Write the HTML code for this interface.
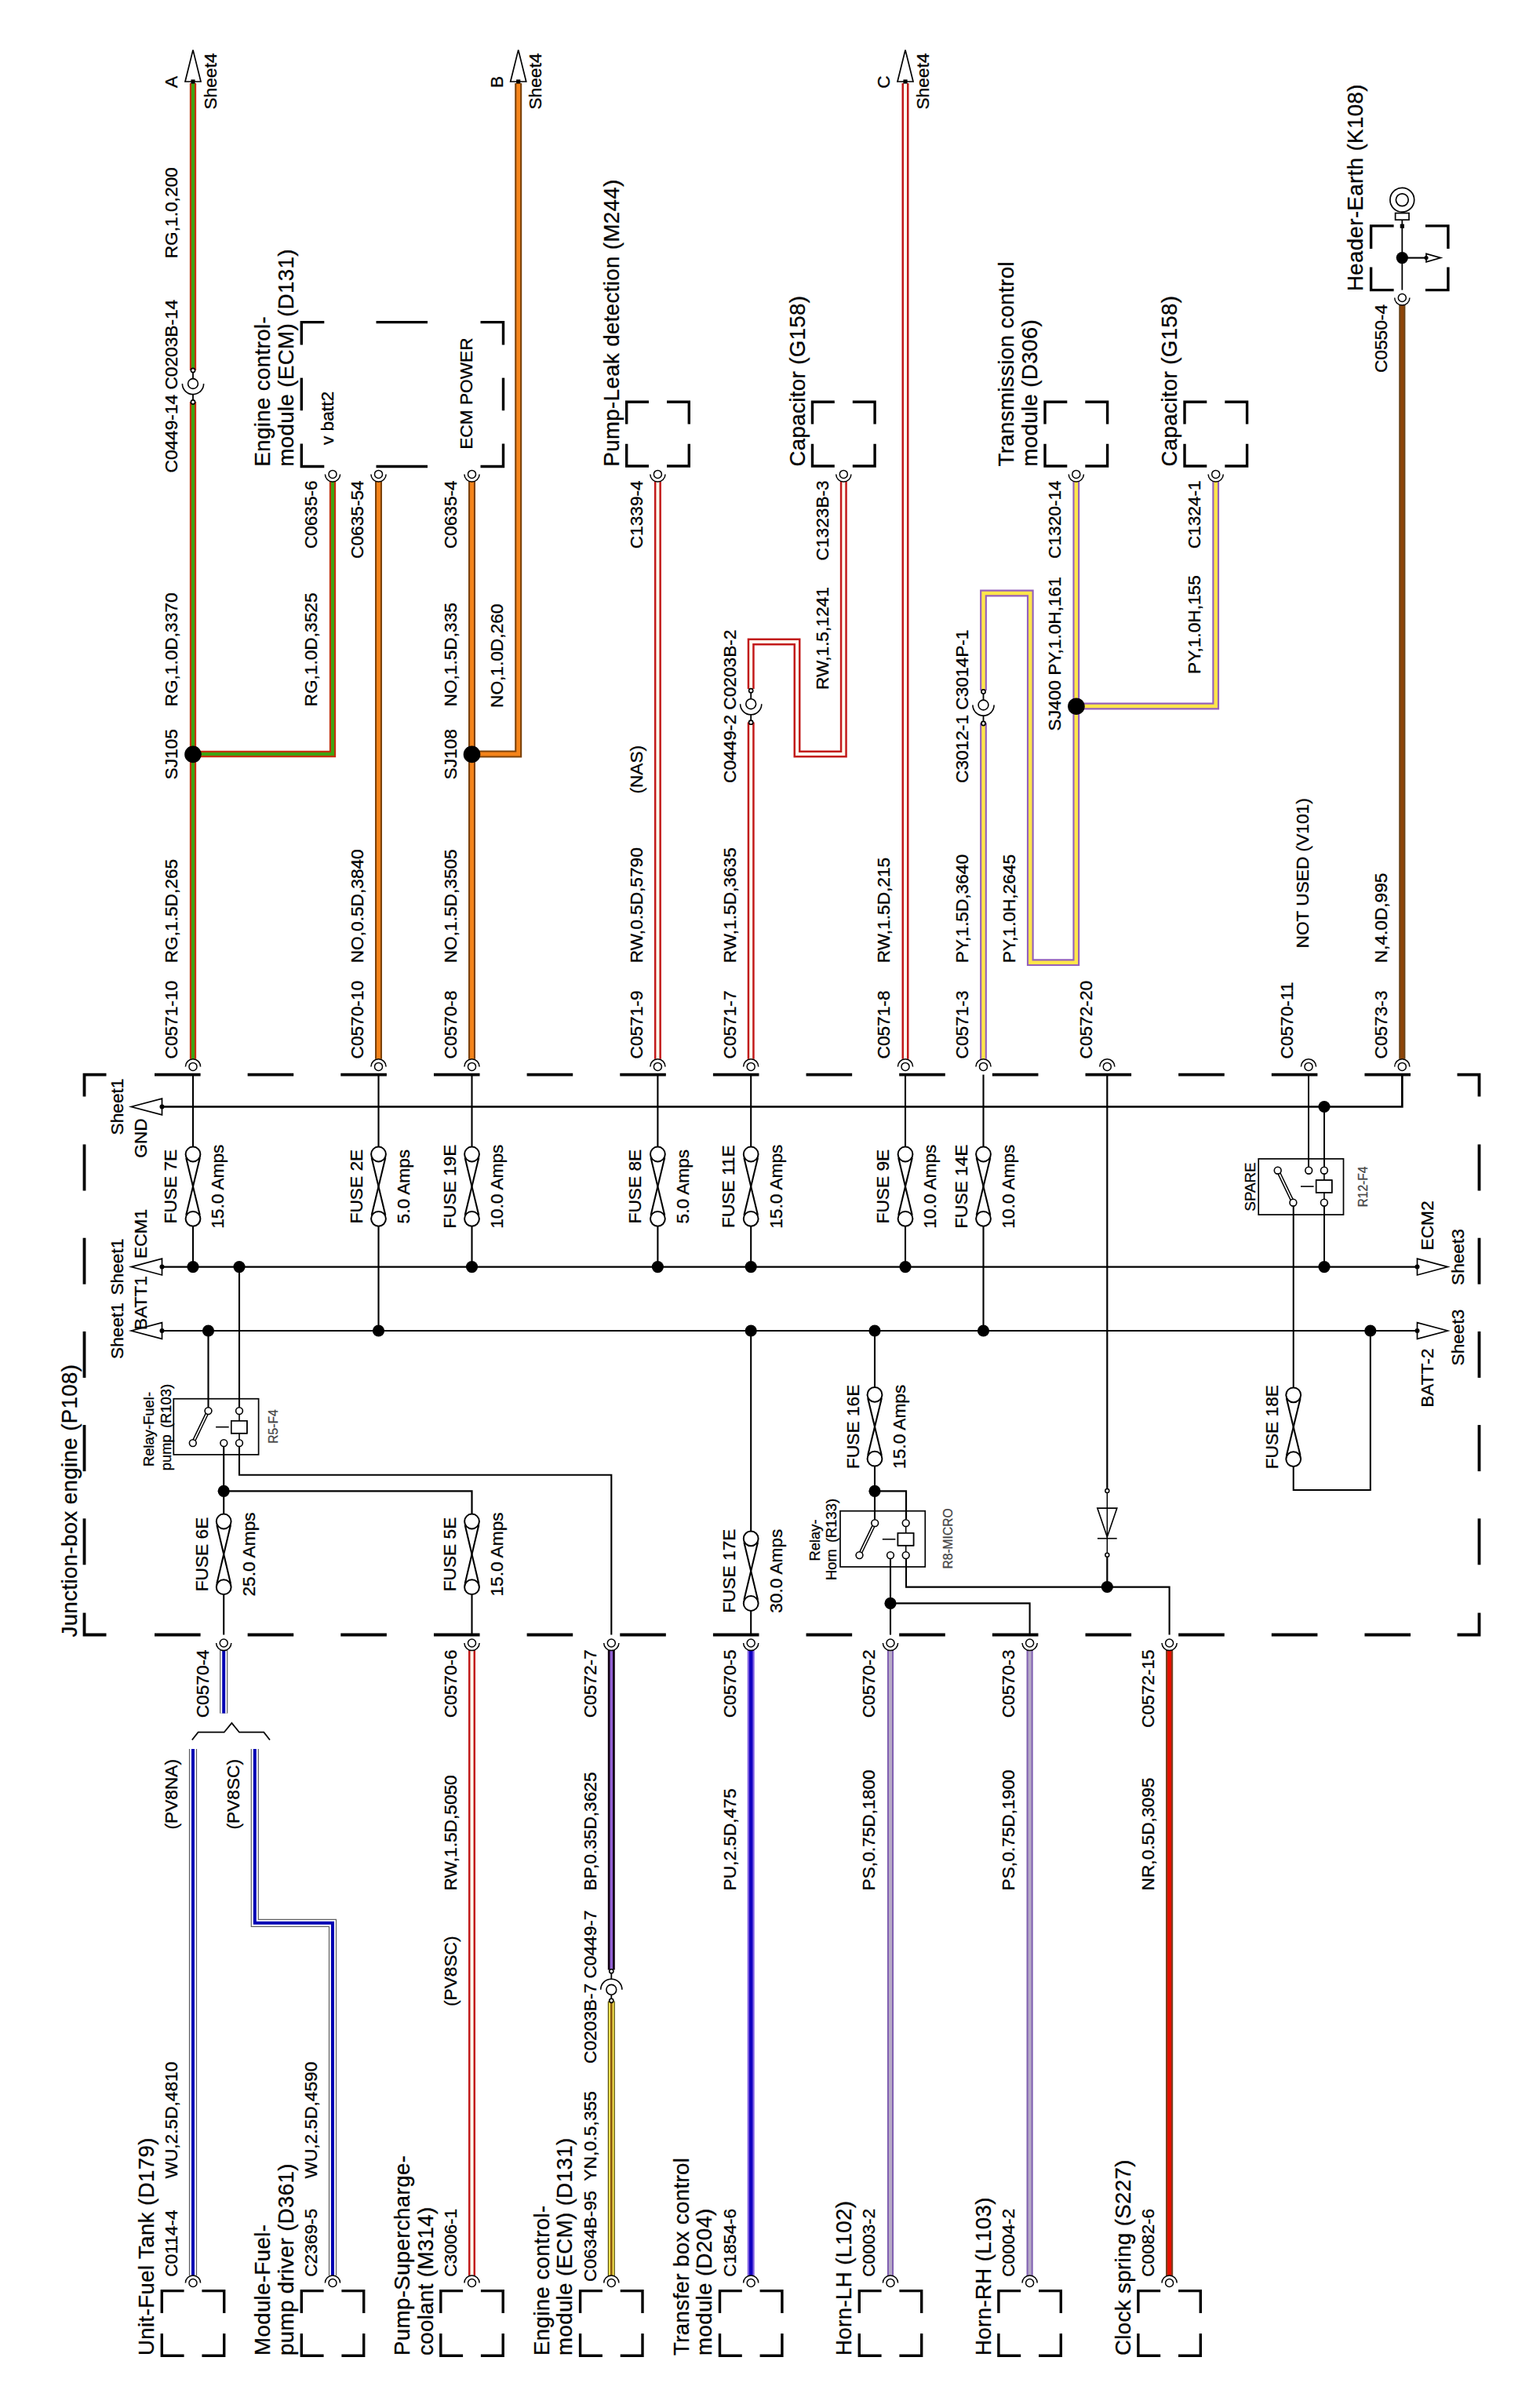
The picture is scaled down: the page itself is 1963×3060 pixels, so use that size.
<!DOCTYPE html>
<html><head><meta charset="utf-8"><title>Junction-box engine (P108)</title>
<style>
html,body{margin:0;padding:0;background:#fff;}
svg{display:block;}
text{font-family:"Liberation Sans",Arial,Helvetica,sans-serif;font-size:22.7px;fill:#000;stroke:#000;stroke-width:0.3px;}
</style></head>
<body>
<svg xmlns="http://www.w3.org/2000/svg" width="1963" height="3060" viewBox="0 0 1963 3060">
<rect width="1963" height="3060" fill="#fff"/>
<polyline points="107.5,1397.6 107.5,1369.6 135.5,1369.6" fill="none" stroke="#000" stroke-width="3.8" />
<polyline points="1857.5,1369.6 1885.5,1369.6 1885.5,1397.6" fill="none" stroke="#000" stroke-width="3.8" />
<polyline points="1885.5,2055.5 1885.5,2083.5 1857.5,2083.5" fill="none" stroke="#000" stroke-width="3.8" />
<polyline points="135.5,2083.5 107.5,2083.5 107.5,2055.5" fill="none" stroke="#000" stroke-width="3.8" />
<line x1="197" y1="1369.6" x2="255.6" y2="1369.6" stroke="#000" stroke-width="3.8"/>
<line x1="197" y1="2083.5" x2="255.6" y2="2083.5" stroke="#000" stroke-width="3.8"/>
<line x1="315.65" y1="1369.6" x2="374.25" y2="1369.6" stroke="#000" stroke-width="3.8"/>
<line x1="315.65" y1="2083.5" x2="374.25" y2="2083.5" stroke="#000" stroke-width="3.8"/>
<line x1="434.3" y1="1369.6" x2="492.9" y2="1369.6" stroke="#000" stroke-width="3.8"/>
<line x1="434.3" y1="2083.5" x2="492.9" y2="2083.5" stroke="#000" stroke-width="3.8"/>
<line x1="552.95" y1="1369.6" x2="611.55" y2="1369.6" stroke="#000" stroke-width="3.8"/>
<line x1="552.95" y1="2083.5" x2="611.55" y2="2083.5" stroke="#000" stroke-width="3.8"/>
<line x1="671.6" y1="1369.6" x2="730.2" y2="1369.6" stroke="#000" stroke-width="3.8"/>
<line x1="671.6" y1="2083.5" x2="730.2" y2="2083.5" stroke="#000" stroke-width="3.8"/>
<line x1="790.25" y1="1369.6" x2="848.85" y2="1369.6" stroke="#000" stroke-width="3.8"/>
<line x1="790.25" y1="2083.5" x2="848.85" y2="2083.5" stroke="#000" stroke-width="3.8"/>
<line x1="908.9" y1="1369.6" x2="967.5" y2="1369.6" stroke="#000" stroke-width="3.8"/>
<line x1="908.9" y1="2083.5" x2="967.5" y2="2083.5" stroke="#000" stroke-width="3.8"/>
<line x1="1027.55" y1="1369.6" x2="1086.15" y2="1369.6" stroke="#000" stroke-width="3.8"/>
<line x1="1027.55" y1="2083.5" x2="1086.15" y2="2083.5" stroke="#000" stroke-width="3.8"/>
<line x1="1146.2" y1="1369.6" x2="1204.8" y2="1369.6" stroke="#000" stroke-width="3.8"/>
<line x1="1146.2" y1="2083.5" x2="1204.8" y2="2083.5" stroke="#000" stroke-width="3.8"/>
<line x1="1264.85" y1="1369.6" x2="1323.45" y2="1369.6" stroke="#000" stroke-width="3.8"/>
<line x1="1264.85" y1="2083.5" x2="1323.45" y2="2083.5" stroke="#000" stroke-width="3.8"/>
<line x1="1383.5" y1="1369.6" x2="1442.1" y2="1369.6" stroke="#000" stroke-width="3.8"/>
<line x1="1383.5" y1="2083.5" x2="1442.1" y2="2083.5" stroke="#000" stroke-width="3.8"/>
<line x1="1502.15" y1="1369.6" x2="1560.75" y2="1369.6" stroke="#000" stroke-width="3.8"/>
<line x1="1502.15" y1="2083.5" x2="1560.75" y2="2083.5" stroke="#000" stroke-width="3.8"/>
<line x1="1620.8" y1="1369.6" x2="1679.4" y2="1369.6" stroke="#000" stroke-width="3.8"/>
<line x1="1620.8" y1="2083.5" x2="1679.4" y2="2083.5" stroke="#000" stroke-width="3.8"/>
<line x1="1739.45" y1="1369.6" x2="1798.05" y2="1369.6" stroke="#000" stroke-width="3.8"/>
<line x1="1739.45" y1="2083.5" x2="1798.05" y2="2083.5" stroke="#000" stroke-width="3.8"/>
<line x1="107.5" y1="1458.5" x2="107.5" y2="1517.5" stroke="#000" stroke-width="3.8"/>
<line x1="1885.5" y1="1458.5" x2="1885.5" y2="1517.5" stroke="#000" stroke-width="3.8"/>
<line x1="107.5" y1="1577.7" x2="107.5" y2="1636.7" stroke="#000" stroke-width="3.8"/>
<line x1="1885.5" y1="1577.7" x2="1885.5" y2="1636.7" stroke="#000" stroke-width="3.8"/>
<line x1="107.5" y1="1696.9" x2="107.5" y2="1755.9" stroke="#000" stroke-width="3.8"/>
<line x1="1885.5" y1="1696.9" x2="1885.5" y2="1755.9" stroke="#000" stroke-width="3.8"/>
<line x1="107.5" y1="1816.1" x2="107.5" y2="1875.1" stroke="#000" stroke-width="3.8"/>
<line x1="1885.5" y1="1816.1" x2="1885.5" y2="1875.1" stroke="#000" stroke-width="3.8"/>
<line x1="107.5" y1="1935.3" x2="107.5" y2="1994.3" stroke="#000" stroke-width="3.8"/>
<line x1="1885.5" y1="1935.3" x2="1885.5" y2="1994.3" stroke="#000" stroke-width="3.8"/>
<polyline points="206.5,1410.5 1787.3,1410.5 1787.3,1369.6" fill="none" stroke="#000" stroke-width="2.7" />
<line x1="206.5" y1="1614.6" x2="1806.5" y2="1614.6" stroke="#000" stroke-width="2.1"/>
<line x1="206.5" y1="1696" x2="1806.5" y2="1696" stroke="#000" stroke-width="2.2"/>
<polygon points="167.2,1410.5 206.5,1400.1 206.5,1420.9" fill="#fff" stroke="#000" stroke-width="1.7" stroke-linejoin="miter"/>
<circle cx="206.5" cy="1410.5" r="3" fill="#000"/>
<polygon points="167.2,1614.6 206.5,1604.2 206.5,1625" fill="#fff" stroke="#000" stroke-width="1.7" stroke-linejoin="miter"/>
<circle cx="206.5" cy="1614.6" r="3" fill="#000"/>
<polygon points="167.2,1696 206.5,1685.6 206.5,1706.4" fill="#fff" stroke="#000" stroke-width="1.7" stroke-linejoin="miter"/>
<circle cx="206.5" cy="1696" r="3" fill="#000"/>
<polygon points="1845.5,1614.6 1806.5,1604.2 1806.5,1625" fill="#fff" stroke="#000" stroke-width="1.7" stroke-linejoin="miter"/>
<circle cx="1806.5" cy="1614.6" r="3" fill="#000"/>
<polygon points="1845.5,1696 1806.5,1685.6 1806.5,1706.4" fill="#fff" stroke="#000" stroke-width="1.7" stroke-linejoin="miter"/>
<circle cx="1806.5" cy="1696" r="3" fill="#000"/>
<line x1="246" y1="1369.6" x2="246" y2="1461.6" stroke="#000" stroke-width="2.1"/>
<line x1="246" y1="1562.7" x2="246" y2="1614.6" stroke="#000" stroke-width="2.1"/>
<circle cx="246" cy="1471" r="9.4" fill="none" stroke="#000" stroke-width="2"/>
<circle cx="246" cy="1553.3" r="9.4" fill="none" stroke="#000" stroke-width="2"/>
<polyline points="237.2,1475.5 254.8,1548.8" fill="none" stroke="#000" stroke-width="2.1" />
<polyline points="254.8,1475.5 237.2,1548.8" fill="none" stroke="#000" stroke-width="2.1" />
<circle cx="246" cy="1614.6" r="7.6" fill="#000"/>
<text transform="translate(225,1512.15) rotate(-90)" text-anchor="middle">FUSE 7E</text>
<text transform="translate(285.3,1512.15) rotate(-90)" text-anchor="middle">15.0 Amps</text>
<line x1="482.5" y1="1369.6" x2="482.5" y2="1461.6" stroke="#000" stroke-width="2.1"/>
<line x1="482.5" y1="1562.7" x2="482.5" y2="1696" stroke="#000" stroke-width="2.1"/>
<circle cx="482.5" cy="1471" r="9.4" fill="none" stroke="#000" stroke-width="2"/>
<circle cx="482.5" cy="1553.3" r="9.4" fill="none" stroke="#000" stroke-width="2"/>
<polyline points="473.7,1475.5 491.3,1548.8" fill="none" stroke="#000" stroke-width="2.1" />
<polyline points="491.3,1475.5 473.7,1548.8" fill="none" stroke="#000" stroke-width="2.1" />
<circle cx="482.5" cy="1696" r="7.6" fill="#000"/>
<text transform="translate(461.5,1512.15) rotate(-90)" text-anchor="middle">FUSE 2E</text>
<text transform="translate(521.8,1512.15) rotate(-90)" text-anchor="middle">5.0 Amps</text>
<line x1="601.5" y1="1369.6" x2="601.5" y2="1461.6" stroke="#000" stroke-width="2.1"/>
<line x1="601.5" y1="1562.7" x2="601.5" y2="1614.6" stroke="#000" stroke-width="2.1"/>
<circle cx="601.5" cy="1471" r="9.4" fill="none" stroke="#000" stroke-width="2"/>
<circle cx="601.5" cy="1553.3" r="9.4" fill="none" stroke="#000" stroke-width="2"/>
<polyline points="592.7,1475.5 610.3,1548.8" fill="none" stroke="#000" stroke-width="2.1" />
<polyline points="610.3,1475.5 592.7,1548.8" fill="none" stroke="#000" stroke-width="2.1" />
<circle cx="601.5" cy="1614.6" r="7.6" fill="#000"/>
<text transform="translate(580.5,1512.15) rotate(-90)" text-anchor="middle">FUSE 19E</text>
<text transform="translate(640.8,1512.15) rotate(-90)" text-anchor="middle">10.0 Amps</text>
<line x1="838.4" y1="1369.6" x2="838.4" y2="1461.6" stroke="#000" stroke-width="2.1"/>
<line x1="838.4" y1="1562.7" x2="838.4" y2="1614.6" stroke="#000" stroke-width="2.1"/>
<circle cx="838.4" cy="1471" r="9.4" fill="none" stroke="#000" stroke-width="2"/>
<circle cx="838.4" cy="1553.3" r="9.4" fill="none" stroke="#000" stroke-width="2"/>
<polyline points="829.6,1475.5 847.2,1548.8" fill="none" stroke="#000" stroke-width="2.1" />
<polyline points="847.2,1475.5 829.6,1548.8" fill="none" stroke="#000" stroke-width="2.1" />
<circle cx="838.4" cy="1614.6" r="7.6" fill="#000"/>
<text transform="translate(817.4,1512.15) rotate(-90)" text-anchor="middle">FUSE 8E</text>
<text transform="translate(877.7,1512.15) rotate(-90)" text-anchor="middle">5.0 Amps</text>
<line x1="957.2" y1="1369.6" x2="957.2" y2="1461.6" stroke="#000" stroke-width="2.1"/>
<line x1="957.2" y1="1562.7" x2="957.2" y2="1614.6" stroke="#000" stroke-width="2.1"/>
<circle cx="957.2" cy="1471" r="9.4" fill="none" stroke="#000" stroke-width="2"/>
<circle cx="957.2" cy="1553.3" r="9.4" fill="none" stroke="#000" stroke-width="2"/>
<polyline points="948.4,1475.5 966,1548.8" fill="none" stroke="#000" stroke-width="2.1" />
<polyline points="966,1475.5 948.4,1548.8" fill="none" stroke="#000" stroke-width="2.1" />
<circle cx="957.2" cy="1614.6" r="7.6" fill="#000"/>
<text transform="translate(936.2,1512.15) rotate(-90)" text-anchor="middle">FUSE 11E</text>
<text transform="translate(996.5,1512.15) rotate(-90)" text-anchor="middle">15.0 Amps</text>
<line x1="1154" y1="1369.6" x2="1154" y2="1461.6" stroke="#000" stroke-width="2.1"/>
<line x1="1154" y1="1562.7" x2="1154" y2="1614.6" stroke="#000" stroke-width="2.1"/>
<circle cx="1154" cy="1471" r="9.4" fill="none" stroke="#000" stroke-width="2"/>
<circle cx="1154" cy="1553.3" r="9.4" fill="none" stroke="#000" stroke-width="2"/>
<polyline points="1145.2,1475.5 1162.8,1548.8" fill="none" stroke="#000" stroke-width="2.1" />
<polyline points="1162.8,1475.5 1145.2,1548.8" fill="none" stroke="#000" stroke-width="2.1" />
<circle cx="1154" cy="1614.6" r="7.6" fill="#000"/>
<text transform="translate(1133,1512.15) rotate(-90)" text-anchor="middle">FUSE 9E</text>
<text transform="translate(1193.3,1512.15) rotate(-90)" text-anchor="middle">10.0 Amps</text>
<line x1="1253.5" y1="1369.6" x2="1253.5" y2="1461.6" stroke="#000" stroke-width="2.1"/>
<line x1="1253.5" y1="1562.7" x2="1253.5" y2="1696" stroke="#000" stroke-width="2.1"/>
<circle cx="1253.5" cy="1471" r="9.4" fill="none" stroke="#000" stroke-width="2"/>
<circle cx="1253.5" cy="1553.3" r="9.4" fill="none" stroke="#000" stroke-width="2"/>
<polyline points="1244.7,1475.5 1262.3,1548.8" fill="none" stroke="#000" stroke-width="2.1" />
<polyline points="1262.3,1475.5 1244.7,1548.8" fill="none" stroke="#000" stroke-width="2.1" />
<circle cx="1253.5" cy="1696" r="7.6" fill="#000"/>
<text transform="translate(1232.5,1512.15) rotate(-90)" text-anchor="middle">FUSE 14E</text>
<text transform="translate(1292.8,1512.15) rotate(-90)" text-anchor="middle">10.0 Amps</text>
<line x1="1411.3" y1="1369.6" x2="1411.3" y2="1897.5" stroke="#000" stroke-width="2.2"/>
<circle cx="1411.3" cy="1900" r="2.5" fill="#fff" stroke="#000" stroke-width="1.5"/>
<line x1="1411.3" y1="1902.5" x2="1411.3" y2="1979.2" stroke="#000" stroke-width="1.5"/>
<polygon points="1398.8,1922.1 1423.8,1922.1 1411.3,1958.7" fill="none" stroke="#000" stroke-width="1.6"/>
<line x1="1398.9" y1="1960.7" x2="1423.7" y2="1960.7" stroke="#000" stroke-width="1.6"/>
<circle cx="1411.3" cy="1981.7" r="2.5" fill="#fff" stroke="#000" stroke-width="1.5"/>
<line x1="1411.3" y1="1984.2" x2="1411.3" y2="2022.3" stroke="#000" stroke-width="2.2"/>
<line x1="1668" y1="1369.6" x2="1668" y2="1487.6" stroke="#000" stroke-width="2"/>
<rect x="1604.2" y="1476.9" width="108.3" height="71.2" fill="none" stroke="#000" stroke-width="1.7"/>
<polyline points="1628.7,1491.7 1648.4,1532.7" fill="none" stroke="#000" stroke-width="4.6" />
<polyline points="1628.7,1491.7 1648.4,1532.7" fill="none" stroke="#fff" stroke-width="1.6" />
<circle cx="1628.7" cy="1491.7" r="4.4" fill="#fff" stroke="#000" stroke-width="1.6"/>
<circle cx="1648.4" cy="1532.7" r="4.4" fill="#fff" stroke="#000" stroke-width="1.6"/>
<rect x="1677.7" y="1504.1" width="20" height="15.8" fill="#fff" stroke="#000" stroke-width="1.6"/>
<line x1="1687.9" y1="1532.7" x2="1687.9" y2="1491.7" stroke="#000" stroke-width="1.6"/>
<rect x="1677.7" y="1504.1" width="20" height="15.8" fill="#fff" stroke="#000" stroke-width="1.6"/>
<line x1="1658" y1="1512.1" x2="1674.6" y2="1512.1" stroke="#000" stroke-width="1.6"/>
<circle cx="1687.9" cy="1532.7" r="4.4" fill="#fff" stroke="#000" stroke-width="1.6"/>
<circle cx="1687.9" cy="1491.7" r="4.4" fill="#fff" stroke="#000" stroke-width="1.6"/>
<circle cx="1668.2" cy="1491.7" r="4.4" fill="#fff" stroke="#000" stroke-width="1.6"/>
<line x1="1688" y1="1410.5" x2="1688" y2="1487.6" stroke="#000" stroke-width="2"/>
<circle cx="1688" cy="1410.5" r="7.6" fill="#000"/>
<line x1="1688" y1="1537.4" x2="1688" y2="1614.6" stroke="#000" stroke-width="2"/>
<circle cx="1688" cy="1614.6" r="7.6" fill="#000"/>
<line x1="1648.7" y1="1537.4" x2="1648.7" y2="1768.4" stroke="#000" stroke-width="2"/>
<circle cx="1648.7" cy="1777.8" r="9.4" fill="none" stroke="#000" stroke-width="2"/>
<circle cx="1648.7" cy="1859.6" r="9.4" fill="none" stroke="#000" stroke-width="2"/>
<polyline points="1639.9,1782.3 1657.5,1855.1" fill="none" stroke="#000" stroke-width="2.1" />
<polyline points="1657.5,1782.3 1639.9,1855.1" fill="none" stroke="#000" stroke-width="2.1" />
<polyline points="1648.7,1869 1648.7,1899 1746.8,1899 1746.8,1696" fill="none" stroke="#000" stroke-width="2" />
<circle cx="1746.8" cy="1696" r="7.6" fill="#000"/>
<text transform="translate(1628.5,1818.7) rotate(-90)" text-anchor="middle">FUSE 18E</text>
<text transform="translate(1600,1512.5) rotate(-90)" style="font-size:18.8px" text-anchor="middle">SPARE</text>
<text transform="translate(1742.6,1512.5) rotate(-90)" style="font-size:15.6px;fill:#444;stroke:#444" text-anchor="middle">R12-F4</text>
<rect x="221.3" y="1782.7" width="108.3" height="71.2" fill="none" stroke="#000" stroke-width="1.7"/>
<polyline points="245.8,1839.1 265.5,1798.1" fill="none" stroke="#000" stroke-width="4.6" />
<polyline points="245.8,1839.1 265.5,1798.1" fill="none" stroke="#fff" stroke-width="1.6" />
<circle cx="245.8" cy="1839.1" r="4.4" fill="#fff" stroke="#000" stroke-width="1.6"/>
<circle cx="265.5" cy="1798.1" r="4.4" fill="#fff" stroke="#000" stroke-width="1.6"/>
<rect x="294.8" y="1810.9" width="20" height="15.8" fill="#fff" stroke="#000" stroke-width="1.6"/>
<line x1="305" y1="1798.1" x2="305" y2="1839.1" stroke="#000" stroke-width="1.6"/>
<rect x="294.8" y="1810.9" width="20" height="15.8" fill="#fff" stroke="#000" stroke-width="1.6"/>
<line x1="275.1" y1="1818.7" x2="291.7" y2="1818.7" stroke="#000" stroke-width="1.6"/>
<circle cx="305" cy="1798.1" r="4.4" fill="#fff" stroke="#000" stroke-width="1.6"/>
<circle cx="305" cy="1839.1" r="4.4" fill="#fff" stroke="#000" stroke-width="1.6"/>
<circle cx="285.3" cy="1839.1" r="4.4" fill="#fff" stroke="#000" stroke-width="1.6"/>
<line x1="265.5" y1="1696" x2="265.5" y2="1793.9" stroke="#000" stroke-width="2.1"/>
<circle cx="265.5" cy="1696" r="7.6" fill="#000"/>
<line x1="305" y1="1614.6" x2="305" y2="1793.9" stroke="#000" stroke-width="2.1"/>
<circle cx="305" cy="1614.6" r="7.6" fill="#000"/>
<line x1="285.2" y1="1843" x2="285.2" y2="1929.6" stroke="#000" stroke-width="2.1"/>
<circle cx="285.2" cy="1900.3" r="7.6" fill="#000"/>
<polyline points="285.2,1900.3 601.5,1900.3 601.5,1929.6" fill="none" stroke="#000" stroke-width="2.2" />
<polyline points="305,1843 305,1879.8 779.3,1879.8 779.3,2083.5" fill="none" stroke="#000" stroke-width="2.1" />
<text transform="translate(195.5,1821.5) rotate(-90)" style="font-size:18.4px" text-anchor="middle">Relay-Fuel-</text>
<text transform="translate(217.5,1819) rotate(-90)" style="font-size:18.4px" text-anchor="middle" word-spacing="3px">pump (R103)</text>
<text transform="translate(353.6,1818) rotate(-90)" style="font-size:15.6px;fill:#444;stroke:#444" text-anchor="middle">R5-F4</text>
<circle cx="285.2" cy="1939" r="9.4" fill="none" stroke="#000" stroke-width="2"/>
<circle cx="285.2" cy="2022.7" r="9.4" fill="none" stroke="#000" stroke-width="2"/>
<polyline points="276.4,1943.5 294,2018.2" fill="none" stroke="#000" stroke-width="2.1" />
<polyline points="294,1943.5 276.4,2018.2" fill="none" stroke="#000" stroke-width="2.1" />
<line x1="285.2" y1="2032.1" x2="285.2" y2="2083.5" stroke="#000" stroke-width="2.1"/>
<text transform="translate(265,1981) rotate(-90)" text-anchor="middle">FUSE 6E</text>
<text transform="translate(324.5,1981) rotate(-90)" text-anchor="middle">25.0 Amps</text>
<circle cx="601.5" cy="1939" r="9.4" fill="none" stroke="#000" stroke-width="2"/>
<circle cx="601.5" cy="2022.7" r="9.4" fill="none" stroke="#000" stroke-width="2"/>
<polyline points="592.7,1943.5 610.3,2018.2" fill="none" stroke="#000" stroke-width="2.1" />
<polyline points="610.3,1943.5 592.7,2018.2" fill="none" stroke="#000" stroke-width="2.1" />
<line x1="601.5" y1="2032.1" x2="601.5" y2="2083.5" stroke="#000" stroke-width="2.1"/>
<text transform="translate(581.3,1981) rotate(-90)" text-anchor="middle">FUSE 5E</text>
<text transform="translate(640.8,1981) rotate(-90)" text-anchor="middle">15.0 Amps</text>
<line x1="957.2" y1="1696" x2="957.2" y2="1951.5" stroke="#000" stroke-width="2.1"/>
<circle cx="957.2" cy="1696" r="7.6" fill="#000"/>
<circle cx="957.2" cy="1960.9" r="9.4" fill="none" stroke="#000" stroke-width="2"/>
<circle cx="957.2" cy="2043.5" r="9.4" fill="none" stroke="#000" stroke-width="2"/>
<polyline points="948.4,1965.4 966,2039" fill="none" stroke="#000" stroke-width="2.1" />
<polyline points="966,1965.4 948.4,2039" fill="none" stroke="#000" stroke-width="2.1" />
<line x1="957.2" y1="2052.9" x2="957.2" y2="2083.5" stroke="#000" stroke-width="2.1"/>
<text transform="translate(937,2002.2) rotate(-90)" text-anchor="middle">FUSE 17E</text>
<text transform="translate(996.5,2002.2) rotate(-90)" text-anchor="middle">30.0 Amps</text>
<line x1="1115" y1="1696" x2="1115" y2="1768" stroke="#000" stroke-width="2.1"/>
<circle cx="1115" cy="1696" r="7.6" fill="#000"/>
<circle cx="1115" cy="1777.4" r="9.4" fill="none" stroke="#000" stroke-width="2"/>
<circle cx="1115" cy="1859.2" r="9.4" fill="none" stroke="#000" stroke-width="2"/>
<polyline points="1106.2,1781.9 1123.8,1854.7" fill="none" stroke="#000" stroke-width="2.1" />
<polyline points="1123.8,1781.9 1106.2,1854.7" fill="none" stroke="#000" stroke-width="2.1" />
<line x1="1115" y1="1868.6" x2="1115" y2="1936.3" stroke="#000" stroke-width="2.1"/>
<circle cx="1115" cy="1900.3" r="7.6" fill="#000"/>
<polyline points="1115,1900.3 1155,1900.3 1155,1936.3" fill="none" stroke="#000" stroke-width="2.2" />
<text transform="translate(1094.8,1818.3) rotate(-90)" text-anchor="middle">FUSE 16E</text>
<text transform="translate(1154.3,1818.3) rotate(-90)" text-anchor="middle">15.0 Amps</text>
<rect x="1071" y="1925.7" width="108.3" height="71.2" fill="none" stroke="#000" stroke-width="1.7"/>
<polyline points="1095.5,1982.1 1115.2,1941.1" fill="none" stroke="#000" stroke-width="4.6" />
<polyline points="1095.5,1982.1 1115.2,1941.1" fill="none" stroke="#fff" stroke-width="1.6" />
<circle cx="1095.5" cy="1982.1" r="4.4" fill="#fff" stroke="#000" stroke-width="1.6"/>
<circle cx="1115.2" cy="1941.1" r="4.4" fill="#fff" stroke="#000" stroke-width="1.6"/>
<rect x="1144.5" y="1953.9" width="20" height="15.8" fill="#fff" stroke="#000" stroke-width="1.6"/>
<line x1="1154.7" y1="1941.1" x2="1154.7" y2="1982.1" stroke="#000" stroke-width="1.6"/>
<rect x="1144.5" y="1953.9" width="20" height="15.8" fill="#fff" stroke="#000" stroke-width="1.6"/>
<line x1="1124.8" y1="1961.7" x2="1141.4" y2="1961.7" stroke="#000" stroke-width="1.6"/>
<circle cx="1154.7" cy="1941.1" r="4.4" fill="#fff" stroke="#000" stroke-width="1.6"/>
<circle cx="1154.7" cy="1982.1" r="4.4" fill="#fff" stroke="#000" stroke-width="1.6"/>
<circle cx="1135" cy="1982.1" r="4.4" fill="#fff" stroke="#000" stroke-width="1.6"/>
<polyline points="1155,1987 1155,2022.6 1490.6,2022.6 1490.6,2083.5" fill="none" stroke="#000" stroke-width="2.1" />
<circle cx="1411.3" cy="2022.5" r="7.6" fill="#000"/>
<line x1="1135" y1="1987" x2="1135" y2="2083.5" stroke="#000" stroke-width="2.1"/>
<circle cx="1135" cy="2043.4" r="7.6" fill="#000"/>
<polyline points="1135,2043.4 1312.6,2043.4 1312.6,2083.5" fill="none" stroke="#000" stroke-width="2.1" />
<text transform="translate(1045,1963) rotate(-90)" style="font-size:18.4px" text-anchor="middle">Relay-</text>
<text transform="translate(1066,1962) rotate(-90)" style="font-size:18.4px" text-anchor="middle" word-spacing="3px">Horn (R133)</text>
<text transform="translate(1213.8,1961) rotate(-90)" style="font-size:15.6px;fill:#444;stroke:#444" text-anchor="middle">R8-MICRO</text>
<text transform="translate(156.5,1410.5) rotate(-90)" text-anchor="middle">Sheet1</text>
<text transform="translate(186.5,1475.7) rotate(-90)">GND</text>
<text transform="translate(156.5,1614.6) rotate(-90)" text-anchor="middle">Sheet1</text>
<text transform="translate(186.5,1604) rotate(-90)">ECM1</text>
<text transform="translate(156.5,1696) rotate(-90)" text-anchor="middle">Sheet1</text>
<text transform="translate(186.5,1695) rotate(-90)">BATT1</text>
<text transform="translate(1826.6,1593.5) rotate(-90)">ECM2</text>
<text transform="translate(1865.6,1638) rotate(-90)">Sheet3</text>
<text transform="translate(1826.6,1793.8) rotate(-90)">BATT-2</text>
<text transform="translate(1865.6,1740.5) rotate(-90)">Sheet3</text>
<text transform="translate(97.6,2086.5) rotate(-90)" style="font-size:27.6px;letter-spacing:0.4px">Junction-box engine (P108)</text>
<text transform="translate(226.4,1349.5) rotate(-90)">C0571-10</text>
<text transform="translate(462.9,1349.5) rotate(-90)">C0570-10</text>
<text transform="translate(581.9,1349.5) rotate(-90)">C0570-8</text>
<text transform="translate(818.8,1349.5) rotate(-90)">C0571-9</text>
<text transform="translate(937.6,1349.5) rotate(-90)">C0571-7</text>
<text transform="translate(1134.4,1349.5) rotate(-90)">C0571-8</text>
<text transform="translate(1233.9,1349.5) rotate(-90)">C0571-3</text>
<text transform="translate(1391.7,1349.5) rotate(-90)">C0572-20</text>
<text transform="translate(1648.4,1349.5) rotate(-90)">C0570-11</text>
<text transform="translate(1767.7,1349.5) rotate(-90)">C0573-3</text>
<text transform="translate(265.6,2102.3) rotate(-90)" text-anchor="end">C0570-4</text>
<text transform="translate(581.9,2102.3) rotate(-90)" text-anchor="end">C0570-6</text>
<text transform="translate(759.7,2102.3) rotate(-90)" text-anchor="end">C0572-7</text>
<text transform="translate(937.6,2102.3) rotate(-90)" text-anchor="end">C0570-5</text>
<text transform="translate(1115.4,2102.3) rotate(-90)" text-anchor="end">C0570-2</text>
<text transform="translate(1293,2102.3) rotate(-90)" text-anchor="end">C0570-3</text>
<text transform="translate(1471,2102.3) rotate(-90)" text-anchor="end">C0572-15</text>
<polyline points="246,106 246,472" fill="none" stroke="#c3300e" stroke-width="8.3" stroke-linejoin="miter"/>
<polyline points="246,106 246,472" fill="none" stroke="#3ea412" stroke-width="4" stroke-linejoin="miter"/>
<polyline points="246,512 246,1349.8" fill="none" stroke="#c3300e" stroke-width="8.3" stroke-linejoin="miter"/>
<polyline points="246,512 246,1349.8" fill="none" stroke="#3ea412" stroke-width="4" stroke-linejoin="miter"/>
<polyline points="246,961 424,961 424,614" fill="none" stroke="#c3300e" stroke-width="8.3" stroke-linejoin="miter"/>
<polyline points="246,961 424,961 424,614" fill="none" stroke="#3ea412" stroke-width="4" stroke-linejoin="miter"/>
<polyline points="482.5,614 482.5,1349.8" fill="none" stroke="#7c420a" stroke-width="9" stroke-linejoin="miter"/>
<polyline points="482.5,614 482.5,1349.8" fill="none" stroke="#f5841a" stroke-width="4.8" stroke-linejoin="miter"/>
<polyline points="601.5,614 601.5,1349.8" fill="none" stroke="#7c420a" stroke-width="9" stroke-linejoin="miter"/>
<polyline points="601.5,614 601.5,1349.8" fill="none" stroke="#f5841a" stroke-width="4.8" stroke-linejoin="miter"/>
<polyline points="601.5,961 660.7,961 660.7,106" fill="none" stroke="#7c420a" stroke-width="9" stroke-linejoin="miter"/>
<polyline points="601.5,961 660.7,961 660.7,106" fill="none" stroke="#f5841a" stroke-width="4.8" stroke-linejoin="miter"/>
<polyline points="838.4,614 838.4,1349.8" fill="none" stroke="#c21a1a" stroke-width="9" stroke-linejoin="miter"/>
<polyline points="838.4,614 838.4,1349.8" fill="none" stroke="#fffbee" stroke-width="4" stroke-linejoin="miter"/>
<polyline points="1075.3,614 1075.3,961 1016,961 1016,818 957.2,818 957.2,878" fill="none" stroke="#c21a1a" stroke-width="9" stroke-linejoin="miter"/>
<polyline points="1075.3,614 1075.3,961 1016,961 1016,818 957.2,818 957.2,878" fill="none" stroke="#fffbee" stroke-width="4" stroke-linejoin="miter"/>
<polyline points="957.2,920.5 957.2,1349.8" fill="none" stroke="#c21a1a" stroke-width="9" stroke-linejoin="miter"/>
<polyline points="957.2,920.5 957.2,1349.8" fill="none" stroke="#fffbee" stroke-width="4" stroke-linejoin="miter"/>
<polyline points="1154,106 1154,1349.8" fill="none" stroke="#c21a1a" stroke-width="9" stroke-linejoin="miter"/>
<polyline points="1154,106 1154,1349.8" fill="none" stroke="#fffbee" stroke-width="4" stroke-linejoin="miter"/>
<polyline points="1371.8,614 1371.8,1226.7 1313.3,1226.7 1313.3,756 1253.5,756 1253.5,880" fill="none" stroke="#9461bb" stroke-width="8.8" stroke-linejoin="miter"/>
<polyline points="1371.8,614 1371.8,1226.7 1313.3,1226.7 1313.3,756 1253.5,756 1253.5,880" fill="none" stroke="#ffe64a" stroke-width="4.5" stroke-linejoin="miter"/>
<polyline points="1549.7,614 1549.7,900 1371.8,900" fill="none" stroke="#9461bb" stroke-width="8.8" stroke-linejoin="miter"/>
<polyline points="1549.7,614 1549.7,900 1371.8,900" fill="none" stroke="#ffe64a" stroke-width="4.5" stroke-linejoin="miter"/>
<polyline points="1253.5,921.5 1253.5,1349.8" fill="none" stroke="#9461bb" stroke-width="8.8" stroke-linejoin="miter"/>
<polyline points="1253.5,921.5 1253.5,1349.8" fill="none" stroke="#ffe64a" stroke-width="4.5" stroke-linejoin="miter"/>
<polyline points="1787.3,389 1787.3,1349.8" fill="none" stroke="#6a4418" stroke-width="8.2" stroke-linejoin="miter"/>
<polyline points="1787.3,389 1787.3,1349.8" fill="none" stroke="#8e4408" stroke-width="4.4" stroke-linejoin="miter"/>
<circle cx="246" cy="961.4" r="10.8" fill="#000"/>
<circle cx="601.5" cy="961.4" r="10.8" fill="#000"/>
<circle cx="1371.9" cy="900.2" r="10.8" fill="#000"/>
<path d="M236.4,1359.4 A9.6,9.6 0 0 1 255.6,1359.4" fill="none" stroke="#000" stroke-width="1.5"/>
<circle cx="246" cy="1359.4" r="5" fill="#fff" stroke="#000" stroke-width="1.5"/>
<path d="M472.9,1359.4 A9.6,9.6 0 0 1 492.1,1359.4" fill="none" stroke="#000" stroke-width="1.5"/>
<circle cx="482.5" cy="1359.4" r="5" fill="#fff" stroke="#000" stroke-width="1.5"/>
<path d="M591.9,1359.4 A9.6,9.6 0 0 1 611.1,1359.4" fill="none" stroke="#000" stroke-width="1.5"/>
<circle cx="601.5" cy="1359.4" r="5" fill="#fff" stroke="#000" stroke-width="1.5"/>
<path d="M828.8,1359.4 A9.6,9.6 0 0 1 848,1359.4" fill="none" stroke="#000" stroke-width="1.5"/>
<circle cx="838.4" cy="1359.4" r="5" fill="#fff" stroke="#000" stroke-width="1.5"/>
<path d="M947.6,1359.4 A9.6,9.6 0 0 1 966.8,1359.4" fill="none" stroke="#000" stroke-width="1.5"/>
<circle cx="957.2" cy="1359.4" r="5" fill="#fff" stroke="#000" stroke-width="1.5"/>
<path d="M1144.4,1359.4 A9.6,9.6 0 0 1 1163.6,1359.4" fill="none" stroke="#000" stroke-width="1.5"/>
<circle cx="1154" cy="1359.4" r="5" fill="#fff" stroke="#000" stroke-width="1.5"/>
<path d="M1243.9,1359.4 A9.6,9.6 0 0 1 1263.1,1359.4" fill="none" stroke="#000" stroke-width="1.5"/>
<circle cx="1253.5" cy="1359.4" r="5" fill="#fff" stroke="#000" stroke-width="1.5"/>
<path d="M1401.7,1359.4 A9.6,9.6 0 0 1 1420.9,1359.4" fill="none" stroke="#000" stroke-width="1.5"/>
<circle cx="1411.3" cy="1359.4" r="5" fill="#fff" stroke="#000" stroke-width="1.5"/>
<path d="M1658.4,1359.4 A9.6,9.6 0 0 1 1677.6,1359.4" fill="none" stroke="#000" stroke-width="1.5"/>
<circle cx="1668" cy="1359.4" r="5" fill="#fff" stroke="#000" stroke-width="1.5"/>
<path d="M1777.7,1359.4 A9.6,9.6 0 0 1 1796.9,1359.4" fill="none" stroke="#000" stroke-width="1.5"/>
<circle cx="1787.3" cy="1359.4" r="5" fill="#fff" stroke="#000" stroke-width="1.5"/>
<polyline points="384.3,439.6 384.3,410.6 413.3,410.6" fill="none" stroke="#000" stroke-width="3.4" stroke-linejoin="miter"/>
<polyline points="612.5,410.6 641.5,410.6 641.5,439.6" fill="none" stroke="#000" stroke-width="3.4" stroke-linejoin="miter"/>
<polyline points="641.5,565.5 641.5,594.5 612.5,594.5" fill="none" stroke="#000" stroke-width="3.4" stroke-linejoin="miter"/>
<polyline points="413.3,594.5 384.3,594.5 384.3,565.5" fill="none" stroke="#000" stroke-width="3.4" stroke-linejoin="miter"/>
<line x1="479.5" y1="410.6" x2="545" y2="410.6" stroke="#000" stroke-width="3.4"/>
<line x1="479.5" y1="594.5" x2="545" y2="594.5" stroke="#000" stroke-width="3.4"/>
<line x1="384.3" y1="481.6" x2="384.3" y2="523.2" stroke="#000" stroke-width="3.4"/>
<line x1="641.5" y1="481.6" x2="641.5" y2="523.2" stroke="#000" stroke-width="3.4"/>
<path d="M414.4,604.4 A9.6,9.6 0 0 0 433.6,604.4" fill="none" stroke="#000" stroke-width="1.5"/>
<circle cx="424" cy="604.4" r="5" fill="#fff" stroke="#000" stroke-width="1.5"/>
<path d="M472.9,604.4 A9.6,9.6 0 0 0 492.1,604.4" fill="none" stroke="#000" stroke-width="1.5"/>
<circle cx="482.5" cy="604.4" r="5" fill="#fff" stroke="#000" stroke-width="1.5"/>
<path d="M591.9,604.4 A9.6,9.6 0 0 0 611.1,604.4" fill="none" stroke="#000" stroke-width="1.5"/>
<circle cx="601.5" cy="604.4" r="5" fill="#fff" stroke="#000" stroke-width="1.5"/>
<text transform="translate(424.5,533) rotate(-90)" text-anchor="middle">v batt2</text>
<text transform="translate(602,501.6) rotate(-90)" text-anchor="middle">ECM POWER</text>
<text transform="translate(344,594.6) rotate(-90)" style="font-size:27.6px;letter-spacing:0.4px">Engine control-</text>
<text transform="translate(373.7,594.6) rotate(-90)" style="font-size:27.6px;letter-spacing:0.4px">module (ECM) (D131)</text>
<polyline points="798.7,540.6 798.7,512.3 827,512.3" fill="none" stroke="#000" stroke-width="3.4" stroke-linejoin="miter"/>
<polyline points="850,512.3 878.3,512.3 878.3,540.6" fill="none" stroke="#000" stroke-width="3.4" stroke-linejoin="miter"/>
<polyline points="878.3,565.7 878.3,594 850,594" fill="none" stroke="#000" stroke-width="3.4" stroke-linejoin="miter"/>
<polyline points="827,594 798.7,594 798.7,565.7" fill="none" stroke="#000" stroke-width="3.4" stroke-linejoin="miter"/>
<path d="M828.8,604.4 A9.6,9.6 0 0 0 848,604.4" fill="none" stroke="#000" stroke-width="1.5"/>
<circle cx="838.4" cy="604.4" r="5" fill="#fff" stroke="#000" stroke-width="1.5"/>
<text transform="translate(788.7,594.6) rotate(-90)" style="font-size:27.6px;letter-spacing:0.4px">Pump-Leak detection (M244)</text>
<polyline points="1035.5,540.6 1035.5,512.3 1063.8,512.3" fill="none" stroke="#000" stroke-width="3.4" stroke-linejoin="miter"/>
<polyline points="1086.8,512.3 1115.1,512.3 1115.1,540.6" fill="none" stroke="#000" stroke-width="3.4" stroke-linejoin="miter"/>
<polyline points="1115.1,565.7 1115.1,594 1086.8,594" fill="none" stroke="#000" stroke-width="3.4" stroke-linejoin="miter"/>
<polyline points="1063.8,594 1035.5,594 1035.5,565.7" fill="none" stroke="#000" stroke-width="3.4" stroke-linejoin="miter"/>
<path d="M1065.7,604.4 A9.6,9.6 0 0 0 1084.9,604.4" fill="none" stroke="#000" stroke-width="1.5"/>
<circle cx="1075.3" cy="604.4" r="5" fill="#fff" stroke="#000" stroke-width="1.5"/>
<text transform="translate(1025.5,594.6) rotate(-90)" style="font-size:27.6px;letter-spacing:0.4px">Capacitor (G158)</text>
<polyline points="1332,540.6 1332,512.3 1360.3,512.3" fill="none" stroke="#000" stroke-width="3.4" stroke-linejoin="miter"/>
<polyline points="1383.3,512.3 1411.6,512.3 1411.6,540.6" fill="none" stroke="#000" stroke-width="3.4" stroke-linejoin="miter"/>
<polyline points="1411.6,565.7 1411.6,594 1383.3,594" fill="none" stroke="#000" stroke-width="3.4" stroke-linejoin="miter"/>
<polyline points="1360.3,594 1332,594 1332,565.7" fill="none" stroke="#000" stroke-width="3.4" stroke-linejoin="miter"/>
<path d="M1362.2,604.4 A9.6,9.6 0 0 0 1381.4,604.4" fill="none" stroke="#000" stroke-width="1.5"/>
<circle cx="1371.8" cy="604.4" r="5" fill="#fff" stroke="#000" stroke-width="1.5"/>
<text transform="translate(1292.3,594.6) rotate(-90)" style="font-size:27.6px;letter-spacing:0.4px">Transmission control</text>
<text transform="translate(1322,594.6) rotate(-90)" style="font-size:27.6px;letter-spacing:0.4px">module (D306)</text>
<polyline points="1510,540.6 1510,512.3 1538.3,512.3" fill="none" stroke="#000" stroke-width="3.4" stroke-linejoin="miter"/>
<polyline points="1561.3,512.3 1589.6,512.3 1589.6,540.6" fill="none" stroke="#000" stroke-width="3.4" stroke-linejoin="miter"/>
<polyline points="1589.6,565.7 1589.6,594 1561.3,594" fill="none" stroke="#000" stroke-width="3.4" stroke-linejoin="miter"/>
<polyline points="1538.3,594 1510,594 1510,565.7" fill="none" stroke="#000" stroke-width="3.4" stroke-linejoin="miter"/>
<path d="M1540.1,604.4 A9.6,9.6 0 0 0 1559.3,604.4" fill="none" stroke="#000" stroke-width="1.5"/>
<circle cx="1549.7" cy="604.4" r="5" fill="#fff" stroke="#000" stroke-width="1.5"/>
<text transform="translate(1500,594.6) rotate(-90)" style="font-size:27.6px;letter-spacing:0.4px">Capacitor (G158)</text>
<polyline points="1747.6,316.9 1747.6,287.9 1776.6,287.9" fill="none" stroke="#000" stroke-width="3.4" stroke-linejoin="miter"/>
<polyline points="1816.9,287.9 1845.9,287.9 1845.9,316.9" fill="none" stroke="#000" stroke-width="3.4" stroke-linejoin="miter"/>
<polyline points="1845.9,340.6 1845.9,369.6 1816.9,369.6" fill="none" stroke="#000" stroke-width="3.4" stroke-linejoin="miter"/>
<polyline points="1776.6,369.6 1747.6,369.6 1747.6,340.6" fill="none" stroke="#000" stroke-width="3.4" stroke-linejoin="miter"/>
<line x1="1787.3" y1="280" x2="1787.3" y2="369.6" stroke="#000" stroke-width="1.8"/>
<circle cx="1787.3" cy="254.8" r="15.4" fill="#fff" stroke="#000" stroke-width="1.7"/>
<circle cx="1787.3" cy="254.8" r="7.9" fill="#fff" stroke="#000" stroke-width="1.7"/>
<rect x="1778.6" y="271.6" width="17.4" height="8.6" fill="#fff" stroke="#000" stroke-width="1.7"/>
<rect x="1784.7" y="285.6" width="5.2" height="5.2" fill="#000"/>
<circle cx="1787.3" cy="328.6" r="7.6" fill="#000"/>
<line x1="1787.3" y1="328.6" x2="1818" y2="328.6" stroke="#000" stroke-width="2.1"/>
<polygon points="1836.4,328.6 1818.0,323.4 1818.0,333.8" fill="#fff" stroke="#000" stroke-width="1.7"/>
<circle cx="1818" cy="328.6" r="2.6" fill="#000"/>
<path d="M1777.7,379.5 A9.6,9.6 0 0 0 1796.9,379.5" fill="none" stroke="#000" stroke-width="1.5"/>
<circle cx="1787.3" cy="379.5" r="5" fill="#fff" stroke="#000" stroke-width="1.5"/>
<text transform="translate(1737,371) rotate(-90)" style="font-size:27.6px;letter-spacing:0.4px">Header-Earth (K108)</text>
<polygon points="246,63.6 236,104 256,104" fill="#fff" stroke="#000" stroke-width="1.7" stroke-linejoin="miter"/>
<rect x="243.4" y="101.4" width="5.2" height="5.2" fill="#000"/>
<text transform="translate(225.8,104.5) rotate(-90)" text-anchor="middle">A</text>
<text transform="translate(275.5,139.6) rotate(-90)">Sheet4</text>
<polygon points="660.7,63.6 650.7,104 670.7,104" fill="#fff" stroke="#000" stroke-width="1.7" stroke-linejoin="miter"/>
<rect x="658.1" y="101.4" width="5.2" height="5.2" fill="#000"/>
<text transform="translate(640.5,104.5) rotate(-90)" text-anchor="middle">B</text>
<text transform="translate(690.2,139.6) rotate(-90)">Sheet4</text>
<polygon points="1154,63.6 1144,104 1164,104" fill="#fff" stroke="#000" stroke-width="1.7" stroke-linejoin="miter"/>
<rect x="1151.4" y="101.4" width="5.2" height="5.2" fill="#000"/>
<text transform="translate(1133.8,104.5) rotate(-90)" text-anchor="middle">C</text>
<text transform="translate(1183.5,139.6) rotate(-90)">Sheet4</text>
<text transform="translate(226.4,329.3) rotate(-90)">RG,1.0,200</text>
<text transform="translate(226.4,602.5) rotate(-90)">C0449-14 C0203B-14</text>
<text transform="translate(226.4,900.5) rotate(-90)">RG,1.0D,3370</text>
<text transform="translate(226.4,993.5) rotate(-90)">SJ105</text>
<text transform="translate(226.4,1227.3) rotate(-90)">RG,1.5D,265</text>
<text transform="translate(404.4,900.5) rotate(-90)">RG,1.0D,3525</text>
<text transform="translate(462.9,1227.3) rotate(-90)">NO,0.5D,3840</text>
<text transform="translate(581.9,900.5) rotate(-90)">NO,1.5D,335</text>
<text transform="translate(581.9,993.5) rotate(-90)">SJ108</text>
<text transform="translate(581.9,1227.3) rotate(-90)">NO,1.5D,3505</text>
<text transform="translate(641.1,902) rotate(-90)">NO,1.0D,260</text>
<text transform="translate(818.8,1011.6) rotate(-90)">(NAS)</text>
<text transform="translate(818.8,1227.3) rotate(-90)">RW,0.5D,5790</text>
<text transform="translate(937.6,998) rotate(-90)">C0449-2 C0203B-2</text>
<text transform="translate(937.6,1227.3) rotate(-90)">RW,1.5D,3635</text>
<text transform="translate(1055.7,879) rotate(-90)">RW,1.5,1241</text>
<text transform="translate(1134.4,1227.3) rotate(-90)">RW,1.5D,215</text>
<text transform="translate(1233.9,998) rotate(-90)">C3012-1 C3014P-1</text>
<text transform="translate(1233.9,1227.3) rotate(-90)">PY,1.5D,3640</text>
<text transform="translate(1293.7,1227.3) rotate(-90)">PY,1.0H,2645</text>
<text transform="translate(1352.2,931.5) rotate(-90)">SJ400 PY,1.0H,161</text>
<text transform="translate(1530.1,858.9) rotate(-90)">PY,1.0H,155</text>
<text transform="translate(1767.7,1227.3) rotate(-90)">N,4.0D,995</text>
<text transform="translate(1668,1208.5) rotate(-90)">NOT USED (V101)</text>
<text transform="translate(404.4,612.3) rotate(-90)" text-anchor="end">C0635-6</text>
<text transform="translate(462.9,612.3) rotate(-90)" text-anchor="end">C0635-54</text>
<text transform="translate(581.9,612.3) rotate(-90)" text-anchor="end">C0635-4</text>
<text transform="translate(818.8,612.3) rotate(-90)" text-anchor="end">C1339-4</text>
<text transform="translate(1055.7,612.3) rotate(-90)" text-anchor="end">C1323B-3</text>
<text transform="translate(1352.2,612.3) rotate(-90)" text-anchor="end">C1320-14</text>
<text transform="translate(1530.1,612.3) rotate(-90)" text-anchor="end">C1324-1</text>
<text transform="translate(1767.7,388) rotate(-90)" text-anchor="end">C0550-4</text>
<polyline points="285.2,2103 285.2,2183.6" fill="none" stroke="#606060" stroke-width="10.2" stroke-linejoin="miter"/>
<polyline points="285.2,2103 285.2,2183.6" fill="none" stroke="#ffffff" stroke-width="7.8" stroke-linejoin="miter"/>
<polyline points="285.2,2103 285.2,2183.6" fill="none" stroke="#0000b4" stroke-width="4" stroke-linejoin="miter"/>
<polyline points="246,2229 246,2900" fill="none" stroke="#606060" stroke-width="10.2" stroke-linejoin="miter"/>
<polyline points="246,2229 246,2900" fill="none" stroke="#ffffff" stroke-width="7.8" stroke-linejoin="miter"/>
<polyline points="246,2229 246,2900" fill="none" stroke="#0000b4" stroke-width="4" stroke-linejoin="miter"/>
<polyline points="324.8,2229 324.8,2450.8 424,2450.8 424,2900" fill="none" stroke="#606060" stroke-width="10.2" stroke-linejoin="miter"/>
<polyline points="324.8,2229 324.8,2450.8 424,2450.8 424,2900" fill="none" stroke="#ffffff" stroke-width="7.8" stroke-linejoin="miter"/>
<polyline points="324.8,2229 324.8,2450.8 424,2450.8 424,2900" fill="none" stroke="#0000b4" stroke-width="4" stroke-linejoin="miter"/>
<polyline points="601.5,2103 601.5,2900" fill="none" stroke="#c21a1a" stroke-width="9" stroke-linejoin="miter"/>
<polyline points="601.5,2103 601.5,2900" fill="none" stroke="#fffbee" stroke-width="4" stroke-linejoin="miter"/>
<polyline points="779.3,2103 779.3,2510.5" fill="none" stroke="#100010" stroke-width="9" stroke-linejoin="miter"/>
<polyline points="779.3,2103 779.3,2510.5" fill="none" stroke="#9262d4" stroke-width="3.6" stroke-linejoin="miter"/>
<polyline points="779.3,2550.5 779.3,2900" fill="none" stroke="#4a4600" stroke-width="9" stroke-linejoin="miter"/>
<polyline points="779.3,2550.5 779.3,2900" fill="none" stroke="#f5e050" stroke-width="6.8" stroke-linejoin="miter"/>
<polyline points="779.3,2550.5 779.3,2900" fill="none" stroke="#8a5a10" stroke-width="2.6" stroke-linejoin="miter"/>
<polyline points="957.2,2103 957.2,2900" fill="none" stroke="#8262e2" stroke-width="9" stroke-linejoin="miter"/>
<polyline points="957.2,2103 957.2,2900" fill="none" stroke="#1000c2" stroke-width="4.6" stroke-linejoin="miter"/>
<polyline points="1135,2103 1135,2900" fill="none" stroke="#8262b2" stroke-width="8.2" stroke-linejoin="miter"/>
<polyline points="1135,2103 1135,2900" fill="none" stroke="#b6aac6" stroke-width="4" stroke-linejoin="miter"/>
<polyline points="1312.6,2103 1312.6,2900" fill="none" stroke="#8262b2" stroke-width="8.2" stroke-linejoin="miter"/>
<polyline points="1312.6,2103 1312.6,2900" fill="none" stroke="#b6aac6" stroke-width="4" stroke-linejoin="miter"/>
<polyline points="1490.6,2103 1490.6,2900" fill="none" stroke="#7a4020" stroke-width="9.2" stroke-linejoin="miter"/>
<polyline points="1490.6,2103 1490.6,2900" fill="none" stroke="#e81000" stroke-width="5" stroke-linejoin="miter"/>
<path d="M275.6,2094 A9.6,9.6 0 0 0 294.8,2094" fill="none" stroke="#000" stroke-width="1.5"/>
<circle cx="285.2" cy="2094" r="5" fill="#fff" stroke="#000" stroke-width="1.5"/>
<path d="M591.9,2094 A9.6,9.6 0 0 0 611.1,2094" fill="none" stroke="#000" stroke-width="1.5"/>
<circle cx="601.5" cy="2094" r="5" fill="#fff" stroke="#000" stroke-width="1.5"/>
<path d="M769.7,2094 A9.6,9.6 0 0 0 788.9,2094" fill="none" stroke="#000" stroke-width="1.5"/>
<circle cx="779.3" cy="2094" r="5" fill="#fff" stroke="#000" stroke-width="1.5"/>
<path d="M947.6,2094 A9.6,9.6 0 0 0 966.8,2094" fill="none" stroke="#000" stroke-width="1.5"/>
<circle cx="957.2" cy="2094" r="5" fill="#fff" stroke="#000" stroke-width="1.5"/>
<path d="M1125.4,2094 A9.6,9.6 0 0 0 1144.6,2094" fill="none" stroke="#000" stroke-width="1.5"/>
<circle cx="1135" cy="2094" r="5" fill="#fff" stroke="#000" stroke-width="1.5"/>
<path d="M1303,2094 A9.6,9.6 0 0 0 1322.2,2094" fill="none" stroke="#000" stroke-width="1.5"/>
<circle cx="1312.6" cy="2094" r="5" fill="#fff" stroke="#000" stroke-width="1.5"/>
<path d="M1481,2094 A9.6,9.6 0 0 0 1500.2,2094" fill="none" stroke="#000" stroke-width="1.5"/>
<circle cx="1490.6" cy="2094" r="5" fill="#fff" stroke="#000" stroke-width="1.5"/>
<polyline points="244.8,2217.5 252.6,2207.7 285.7,2207.7 295.4,2196 305,2207.7 336.3,2207.7 344,2217.5" fill="none" stroke="#000" stroke-width="1.8" />
<text transform="translate(226.4,2331.5) rotate(-90)">(PV8NA)</text>
<text transform="translate(305.2,2331.5) rotate(-90)">(PV8SC)</text>
<text transform="translate(226.4,2776.5) rotate(-90)">WU,2.5D,4810</text>
<text transform="translate(404.4,2776.5) rotate(-90)">WU,2.5D,4590</text>
<text transform="translate(581.9,2409.4) rotate(-90)">RW,1.5D,5050</text>
<text transform="translate(581.9,2557) rotate(-90)">(PV8SC)</text>
<text transform="translate(759.7,2409.4) rotate(-90)">BP,0.35D,3625</text>
<text transform="translate(759.7,2630) rotate(-90)">C0203B-7 C0449-7</text>
<text transform="translate(937.6,2409.4) rotate(-90)">PU,2.5D,475</text>
<text transform="translate(1115.4,2409.4) rotate(-90)">PS,0.75D,1800</text>
<text transform="translate(1293,2409.4) rotate(-90)">PS,0.75D,1900</text>
<text transform="translate(1471,2409.4) rotate(-90)">NR,0.5D,3095</text>
<text transform="translate(759.7,2908) rotate(-90)" textLength="243" lengthAdjust="spacing" xml:space="preserve">C0634B-95  YN,0.5,355</text>
<polyline points="206.3,2947.9 206.3,2919.6 234.6,2919.6" fill="none" stroke="#000" stroke-width="3.4" stroke-linejoin="miter"/>
<polyline points="257.4,2919.6 285.7,2919.6 285.7,2947.9" fill="none" stroke="#000" stroke-width="3.4" stroke-linejoin="miter"/>
<polyline points="285.7,2973.9 285.7,3002.2 257.4,3002.2" fill="none" stroke="#000" stroke-width="3.4" stroke-linejoin="miter"/>
<polyline points="234.6,3002.2 206.3,3002.2 206.3,2973.9" fill="none" stroke="#000" stroke-width="3.4" stroke-linejoin="miter"/>
<path d="M236.4,2909.5 A9.6,9.6 0 0 1 255.6,2909.5" fill="none" stroke="#000" stroke-width="1.5"/>
<circle cx="246" cy="2909.5" r="5" fill="#fff" stroke="#000" stroke-width="1.5"/>
<text transform="translate(226.4,2901.8) rotate(-90)">C0114-4</text>
<text transform="translate(196.1,3002) rotate(-90)" style="font-size:27.6px;letter-spacing:0.4px">Unit-Fuel Tank (D179)</text>
<polyline points="384.3,2947.9 384.3,2919.6 412.6,2919.6" fill="none" stroke="#000" stroke-width="3.4" stroke-linejoin="miter"/>
<polyline points="435.4,2919.6 463.7,2919.6 463.7,2947.9" fill="none" stroke="#000" stroke-width="3.4" stroke-linejoin="miter"/>
<polyline points="463.7,2973.9 463.7,3002.2 435.4,3002.2" fill="none" stroke="#000" stroke-width="3.4" stroke-linejoin="miter"/>
<polyline points="412.6,3002.2 384.3,3002.2 384.3,2973.9" fill="none" stroke="#000" stroke-width="3.4" stroke-linejoin="miter"/>
<path d="M414.4,2909.5 A9.6,9.6 0 0 1 433.6,2909.5" fill="none" stroke="#000" stroke-width="1.5"/>
<circle cx="424" cy="2909.5" r="5" fill="#fff" stroke="#000" stroke-width="1.5"/>
<text transform="translate(404.4,2901.8) rotate(-90)">C2369-5</text>
<text transform="translate(344.4,3002) rotate(-90)" style="font-size:27.6px;letter-spacing:0.4px">Module-Fuel-</text>
<text transform="translate(374.1,3002) rotate(-90)" style="font-size:27.6px;letter-spacing:0.4px">pump driver (D361)</text>
<polyline points="561.8,2947.9 561.8,2919.6 590.1,2919.6" fill="none" stroke="#000" stroke-width="3.4" stroke-linejoin="miter"/>
<polyline points="612.9,2919.6 641.2,2919.6 641.2,2947.9" fill="none" stroke="#000" stroke-width="3.4" stroke-linejoin="miter"/>
<polyline points="641.2,2973.9 641.2,3002.2 612.9,3002.2" fill="none" stroke="#000" stroke-width="3.4" stroke-linejoin="miter"/>
<polyline points="590.1,3002.2 561.8,3002.2 561.8,2973.9" fill="none" stroke="#000" stroke-width="3.4" stroke-linejoin="miter"/>
<path d="M591.9,2909.5 A9.6,9.6 0 0 1 611.1,2909.5" fill="none" stroke="#000" stroke-width="1.5"/>
<circle cx="601.5" cy="2909.5" r="5" fill="#fff" stroke="#000" stroke-width="1.5"/>
<text transform="translate(581.9,2901.8) rotate(-90)">C3006-1</text>
<text transform="translate(521.9,3002) rotate(-90)" style="font-size:27.6px;letter-spacing:0.4px">Pump-Supercharge-</text>
<text transform="translate(551.6,3002) rotate(-90)" style="font-size:27.6px;letter-spacing:0.4px">coolant (M314)</text>
<polyline points="739.6,2947.9 739.6,2919.6 767.9,2919.6" fill="none" stroke="#000" stroke-width="3.4" stroke-linejoin="miter"/>
<polyline points="790.7,2919.6 819,2919.6 819,2947.9" fill="none" stroke="#000" stroke-width="3.4" stroke-linejoin="miter"/>
<polyline points="819,2973.9 819,3002.2 790.7,3002.2" fill="none" stroke="#000" stroke-width="3.4" stroke-linejoin="miter"/>
<polyline points="767.9,3002.2 739.6,3002.2 739.6,2973.9" fill="none" stroke="#000" stroke-width="3.4" stroke-linejoin="miter"/>
<path d="M769.7,2909.5 A9.6,9.6 0 0 1 788.9,2909.5" fill="none" stroke="#000" stroke-width="1.5"/>
<circle cx="779.3" cy="2909.5" r="5" fill="#fff" stroke="#000" stroke-width="1.5"/>
<text transform="translate(699.7,3002) rotate(-90)" style="font-size:27.6px;letter-spacing:0.4px">Engine control-</text>
<text transform="translate(729.4,3002) rotate(-90)" style="font-size:27.6px;letter-spacing:0.4px">module (ECM) (D131)</text>
<polyline points="917.5,2947.9 917.5,2919.6 945.8,2919.6" fill="none" stroke="#000" stroke-width="3.4" stroke-linejoin="miter"/>
<polyline points="968.6,2919.6 996.9,2919.6 996.9,2947.9" fill="none" stroke="#000" stroke-width="3.4" stroke-linejoin="miter"/>
<polyline points="996.9,2973.9 996.9,3002.2 968.6,3002.2" fill="none" stroke="#000" stroke-width="3.4" stroke-linejoin="miter"/>
<polyline points="945.8,3002.2 917.5,3002.2 917.5,2973.9" fill="none" stroke="#000" stroke-width="3.4" stroke-linejoin="miter"/>
<path d="M947.6,2909.5 A9.6,9.6 0 0 1 966.8,2909.5" fill="none" stroke="#000" stroke-width="1.5"/>
<circle cx="957.2" cy="2909.5" r="5" fill="#fff" stroke="#000" stroke-width="1.5"/>
<text transform="translate(937.6,2901.8) rotate(-90)">C1854-6</text>
<text transform="translate(877.6,3002) rotate(-90)" style="font-size:27.6px;letter-spacing:0.4px">Transfer box control</text>
<text transform="translate(907.3,3002) rotate(-90)" style="font-size:27.6px;letter-spacing:0.4px">module (D204)</text>
<polyline points="1095.3,2947.9 1095.3,2919.6 1123.6,2919.6" fill="none" stroke="#000" stroke-width="3.4" stroke-linejoin="miter"/>
<polyline points="1146.4,2919.6 1174.7,2919.6 1174.7,2947.9" fill="none" stroke="#000" stroke-width="3.4" stroke-linejoin="miter"/>
<polyline points="1174.7,2973.9 1174.7,3002.2 1146.4,3002.2" fill="none" stroke="#000" stroke-width="3.4" stroke-linejoin="miter"/>
<polyline points="1123.6,3002.2 1095.3,3002.2 1095.3,2973.9" fill="none" stroke="#000" stroke-width="3.4" stroke-linejoin="miter"/>
<path d="M1125.4,2909.5 A9.6,9.6 0 0 1 1144.6,2909.5" fill="none" stroke="#000" stroke-width="1.5"/>
<circle cx="1135" cy="2909.5" r="5" fill="#fff" stroke="#000" stroke-width="1.5"/>
<text transform="translate(1115.4,2901.8) rotate(-90)">C0003-2</text>
<text transform="translate(1085.1,3002) rotate(-90)" style="font-size:27.6px;letter-spacing:0.4px">Horn-LH (L102)</text>
<polyline points="1272.9,2947.9 1272.9,2919.6 1301.2,2919.6" fill="none" stroke="#000" stroke-width="3.4" stroke-linejoin="miter"/>
<polyline points="1324,2919.6 1352.3,2919.6 1352.3,2947.9" fill="none" stroke="#000" stroke-width="3.4" stroke-linejoin="miter"/>
<polyline points="1352.3,2973.9 1352.3,3002.2 1324,3002.2" fill="none" stroke="#000" stroke-width="3.4" stroke-linejoin="miter"/>
<polyline points="1301.2,3002.2 1272.9,3002.2 1272.9,2973.9" fill="none" stroke="#000" stroke-width="3.4" stroke-linejoin="miter"/>
<path d="M1303,2909.5 A9.6,9.6 0 0 1 1322.2,2909.5" fill="none" stroke="#000" stroke-width="1.5"/>
<circle cx="1312.6" cy="2909.5" r="5" fill="#fff" stroke="#000" stroke-width="1.5"/>
<text transform="translate(1293,2901.8) rotate(-90)">C0004-2</text>
<text transform="translate(1262.7,3002) rotate(-90)" style="font-size:27.6px;letter-spacing:0.4px">Horn-RH (L103)</text>
<polyline points="1450.9,2947.9 1450.9,2919.6 1479.2,2919.6" fill="none" stroke="#000" stroke-width="3.4" stroke-linejoin="miter"/>
<polyline points="1502,2919.6 1530.3,2919.6 1530.3,2947.9" fill="none" stroke="#000" stroke-width="3.4" stroke-linejoin="miter"/>
<polyline points="1530.3,2973.9 1530.3,3002.2 1502,3002.2" fill="none" stroke="#000" stroke-width="3.4" stroke-linejoin="miter"/>
<polyline points="1479.2,3002.2 1450.9,3002.2 1450.9,2973.9" fill="none" stroke="#000" stroke-width="3.4" stroke-linejoin="miter"/>
<path d="M1481,2909.5 A9.6,9.6 0 0 1 1500.2,2909.5" fill="none" stroke="#000" stroke-width="1.5"/>
<circle cx="1490.6" cy="2909.5" r="5" fill="#fff" stroke="#000" stroke-width="1.5"/>
<text transform="translate(1471,2901.8) rotate(-90)">C0082-6</text>
<text transform="translate(1440.7,3002) rotate(-90)" style="font-size:27.6px;letter-spacing:0.4px">Clock spring (S227)</text>
<line x1="246" y1="474.5" x2="246" y2="482.5" stroke="#000" stroke-width="1.8"/>
<line x1="246" y1="502.6" x2="246" y2="511" stroke="#000" stroke-width="1.8"/>
<path d="M232.4,489 A13.6,13.6 0 0 0 259.6,489" fill="none" stroke="#000" stroke-width="1.6"/>
<circle cx="246" cy="489" r="6.4" fill="#fff" stroke="#000" stroke-width="1.6"/>
<circle cx="246" cy="472" r="2.6" fill="#fff" stroke="#000" stroke-width="1.6"/>
<circle cx="246" cy="512.5" r="2.6" fill="#fff" stroke="#000" stroke-width="1.6"/>
<line x1="957.2" y1="882.7" x2="957.2" y2="890.7" stroke="#000" stroke-width="1.8"/>
<line x1="957.2" y1="910.8" x2="957.2" y2="919.2" stroke="#000" stroke-width="1.8"/>
<path d="M943.6,897.2 A13.6,13.6 0 0 0 970.8,897.2" fill="none" stroke="#000" stroke-width="1.6"/>
<circle cx="957.2" cy="897.2" r="6.4" fill="#fff" stroke="#000" stroke-width="1.6"/>
<circle cx="957.2" cy="880.2" r="2.6" fill="#fff" stroke="#000" stroke-width="1.6"/>
<circle cx="957.2" cy="920.7" r="2.6" fill="#fff" stroke="#000" stroke-width="1.6"/>
<line x1="1253.5" y1="884" x2="1253.5" y2="892" stroke="#000" stroke-width="1.8"/>
<line x1="1253.5" y1="912.1" x2="1253.5" y2="920.5" stroke="#000" stroke-width="1.8"/>
<path d="M1239.9,898.5 A13.6,13.6 0 0 0 1267.1,898.5" fill="none" stroke="#000" stroke-width="1.6"/>
<circle cx="1253.5" cy="898.5" r="6.4" fill="#fff" stroke="#000" stroke-width="1.6"/>
<circle cx="1253.5" cy="881.5" r="2.6" fill="#fff" stroke="#000" stroke-width="1.6"/>
<circle cx="1253.5" cy="922" r="2.6" fill="#fff" stroke="#000" stroke-width="1.6"/>
<line x1="779.3" y1="2513.8" x2="779.3" y2="2522.2" stroke="#000" stroke-width="1.8"/>
<line x1="779.3" y1="2542.3" x2="779.3" y2="2549.8" stroke="#000" stroke-width="1.8"/>
<path d="M765.7,2535.8 A13.6,13.6 0 0 1 792.9,2535.8" fill="none" stroke="#000" stroke-width="1.6"/>
<circle cx="779.3" cy="2535.8" r="6.4" fill="#fff" stroke="#000" stroke-width="1.6"/>
<circle cx="779.3" cy="2512.3" r="2.6" fill="#fff" stroke="#000" stroke-width="1.6"/>
<circle cx="779.3" cy="2549.8" r="2.6" fill="#fff" stroke="#000" stroke-width="1.6"/>
</svg>
</body></html>
